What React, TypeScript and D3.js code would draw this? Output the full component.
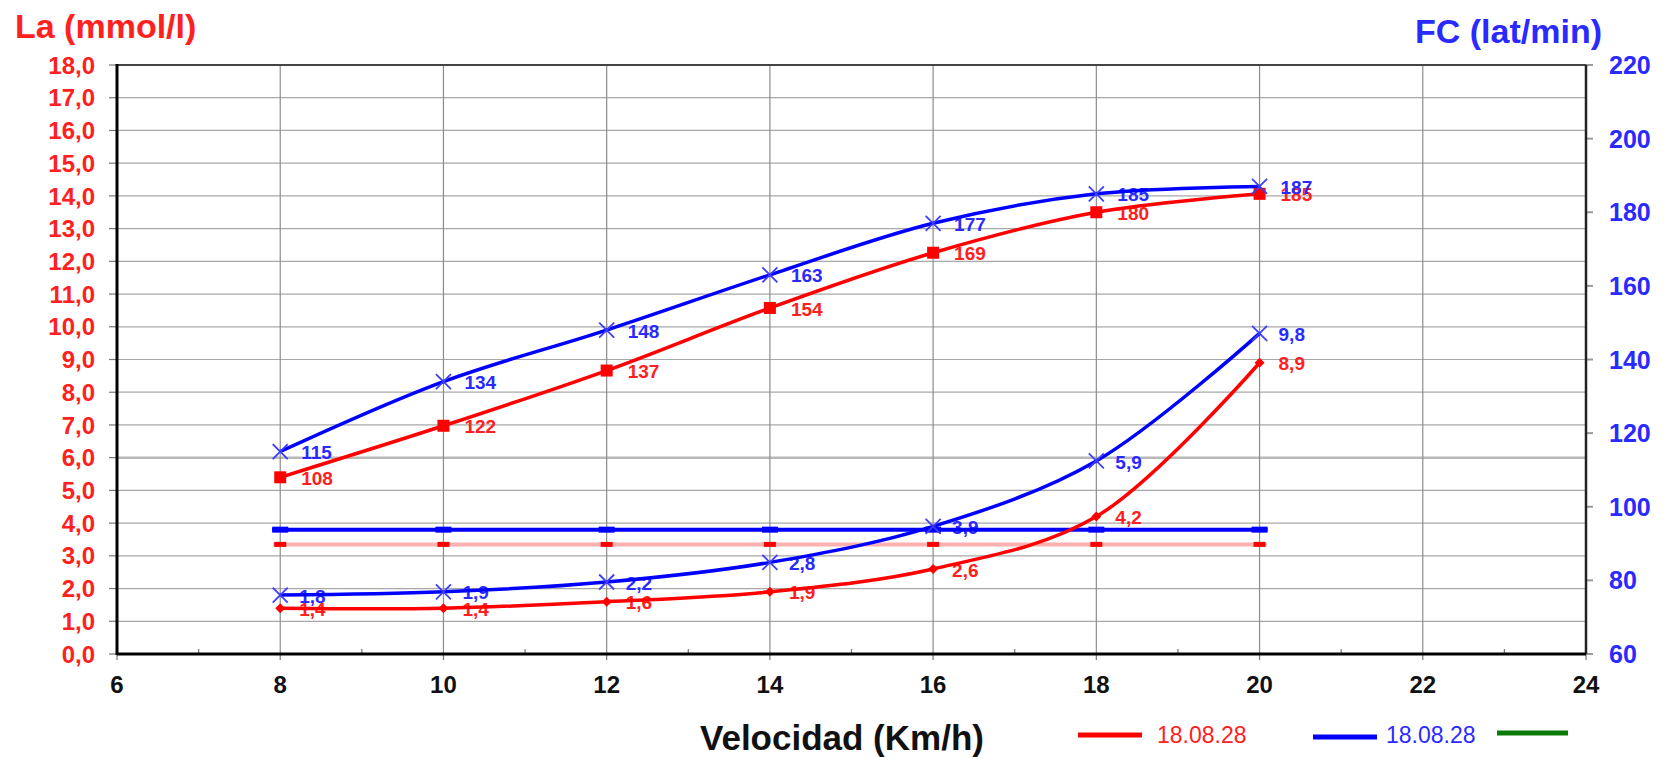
import React from "react";
import * as d3 from "d3";

const speeds = [8, 10, 12, 14, 16, 18, 20];
const laRed = [1.4, 1.4, 1.6, 1.9, 2.6, 4.2, 8.9];
const laBlue = [1.8, 1.9, 2.2, 2.8, 3.9, 5.9, 9.8];
const fcRed = [108, 122, 137, 154, 169, 180, 185];
const fcBlue = [115, 134, 148, 163, 177, 185, 187];
const thrBlue = [3.8, 3.8, 3.8, 3.8, 3.8, 3.8, 3.8];
const thrRed = [3.35, 3.35, 3.35, 3.35, 3.35, 3.35, 3.35];
const xTicks = [6, 8, 10, 12, 14, 16, 18, 20, 22, 24];
const xMinor = [7, 9, 11, 13, 15, 17, 19, 21, 23];
const laTicks = [0, 1, 2, 3, 4, 5, 6, 7, 8, 9, 10, 11, 12, 13, 14, 15, 16, 17, 18];
const fcTicks = [60, 80, 100, 120, 140, 160, 180, 200, 220];
const legendLabels = ["18.08.28", "18.08.28", ""];

const W = 1665;
const H = 757;
const L = 117;
const R = 1586;
const T = 65;
const B = 654;
const FONT = "'Liberation Sans', Arial, sans-serif";
const RED = "#ff0000";
const BLUE = "#0000ff";
const RED_T = "#ff2020";
const BLUE_T = "#2a2aff";

const x = d3.scaleLinear().domain([6, 24]).range([L, R]);
const yLa = d3.scaleLinear().domain([0, 18]).range([B, T]);
const yFc = d3.scaleLinear().domain([60, 220]).range([B, T]);

const fmt = (v: number) => v.toFixed(1).replace(".", ",");

function linePath(vals: number[], y: d3.ScaleLinear<number, number>) {
  const g = d3
    .line<number>()
    .x((_, i) => x(speeds[i]))
    .y((v) => y(v))
    .curve(d3.curveCatmullRom.alpha(0.5));
  return g(vals) || "";
}

function XMark({ cx, cy }: { cx: number; cy: number }) {
  const s = 7.5;
  return (
    <g stroke="#3d3dff" strokeWidth={1.8}>
      <line x1={cx - s} y1={cy - s} x2={cx + s} y2={cy + s} />
      <line x1={cx - s} y1={cy + s} x2={cx + s} y2={cy - s} />
    </g>
  );
}

export default function App() {
  const straight = d3.line<number>().x((_, i) => x(speeds[i])).y((v) => yLa(v));
  return (
    <svg
      width={W}
      height={H}
      style={{ position: "absolute", left: 0, top: 0, background: "#fff" }}
      fontFamily={FONT}
    >
      <rect x={0} y={0} width={W} height={H} fill="#fff" />
      {/* grid */}
      {laTicks.slice(1, -1).map((t) => (
        <line
          key={"h" + t}
          x1={L}
          x2={R}
          y1={yLa(t)}
          y2={yLa(t)}
          stroke={t === 6 ? "#b8b8b8" : "#a8a8a8"}
          strokeWidth={t === 6 ? 2.5 : 1.2}
        />
      ))}
      {xTicks.slice(1, -1).map((t) => (
        <line key={"v" + t} x1={x(t)} x2={x(t)} y1={T} y2={B} stroke="#8c8c8c" strokeWidth={1.2} />
      ))}
      {/* ticks */}
      {laTicks.map((t) => (
        <line key={"lt" + t} x1={L - 8} x2={L} y1={yLa(t)} y2={yLa(t)} stroke="#777" strokeWidth={1.2} />
      ))}
      {fcTicks.map((t) => (
        <line key={"rt" + t} x1={R} x2={R + 7} y1={yFc(t)} y2={yFc(t)} stroke="#999" strokeWidth={2} />
      ))}
      {xTicks.map((t) => (
        <line key={"xt" + t} x1={x(t)} x2={x(t)} y1={B} y2={B + 6} stroke="#777" strokeWidth={1.2} />
      ))}
      {xMinor.map((t) => (
        <line key={"xm" + t} x1={x(t)} x2={x(t)} y1={B - 5} y2={B} stroke="#777" strokeWidth={1.2} />
      ))}
      {/* frame */}
      <line x1={L} x2={R} y1={T} y2={T} stroke="#444" strokeWidth={2} />
      <line x1={R} x2={R} y1={T} y2={B} stroke="#222" strokeWidth={2.5} />
      <line x1={L} x2={L} y1={T - 1} y2={B + 1} stroke="#000" strokeWidth={3} />
      <line x1={L} x2={R} y1={B} y2={B} stroke="#000" strokeWidth={3} />

      {/* tick labels */}
      {laTicks.map((t) => (
        <text
          key={"ll" + t}
          x={95}
          y={yLa(t)}
          dy="0.36em"
          textAnchor="end"
          fontSize={24}
          fontWeight="bold"
          fill={RED_T}
        >
          {fmt(t)}
        </text>
      ))}
      {fcTicks.map((t) => (
        <text
          key={"fl" + t}
          x={1609}
          y={yFc(t)}
          dy="0.36em"
          textAnchor="start"
          fontSize={25}
          fontWeight="bold"
          fill={BLUE_T}
        >
          {t}
        </text>
      ))}
      {xTicks.map((t) => (
        <text key={"xl" + t} x={x(t)} y={693} textAnchor="middle" fontSize={24} fontWeight="bold" fill="#111">
          {t}
        </text>
      ))}

      {/* titles */}
      <text x={15} y={38} fontSize={34} fontWeight="bold" fill={RED_T}>
        La (mmol/l)
      </text>
      <text x={1602} y={43} textAnchor="end" fontSize={34} fontWeight="bold" fill={BLUE_T}>
        FC (lat/min)
      </text>
      <text x={700} y={750} fontSize={35} fontWeight="bold" fill="#111">
        Velocidad (Km/h)
      </text>

      {/* data labels (under lines) */}
      {laRed.map((v, i) => (
        <text key={"lrl" + i} x={x(speeds[i]) + 19} y={yLa(v)} dy="0.4em" fontSize={19} fontWeight="bold" fill={RED_T}>
          {fmt(v)}
        </text>
      ))}
      {laBlue.map((v, i) => (
        <text key={"lbl" + i} x={x(speeds[i]) + 19} y={yLa(v)} dy="0.4em" fontSize={19} fontWeight="bold" fill={BLUE_T}>
          {fmt(v)}
        </text>
      ))}
      {fcRed.map((v, i) => (
        <text key={"frl" + i} x={x(speeds[i]) + 21} y={yFc(v)} dy="0.4em" fontSize={19} fontWeight="bold" fill={RED_T}>
          {v}
        </text>
      ))}
      {fcBlue.map((v, i) => (
        <text key={"fbl" + i} x={x(speeds[i]) + 21} y={yFc(v)} dy="0.4em" fontSize={19} fontWeight="bold" fill={BLUE_T}>
          {v}
        </text>
      ))}

      {/* threshold lines */}
      <line
        x1={x(speeds[0]) - 7}
        x2={x(speeds[speeds.length - 1]) + 7}
        y1={yLa(thrRed[0])}
        y2={yLa(thrRed[0])}
        stroke="#ffb0b0"
        strokeWidth={4}
      />
      <path d={straight(thrRed) || ""} fill="none" stroke="none" />
      {thrRed.map((v, i) => (
        <rect key={"tr" + i} x={x(speeds[i]) - 6} y={yLa(v) - 2.5} width={12} height={5} fill={RED} />
      ))}
      <line
        x1={x(speeds[0]) - 8}
        x2={x(speeds[speeds.length - 1]) + 8}
        y1={yLa(thrBlue[0])}
        y2={yLa(thrBlue[0])}
        stroke={BLUE}
        strokeWidth={4}
      />
      {thrBlue.map((v, i) => (
        <rect key={"tb" + i} x={x(speeds[i]) - 8} y={yLa(v) - 3} width={16} height={6} fill={BLUE} />
      ))}

      {/* series lines */}
      <path d={linePath(laRed, yLa)} fill="none" stroke={RED} strokeWidth={3.5} />
      <path d={linePath(laBlue, yLa)} fill="none" stroke={BLUE} strokeWidth={3.5} />
      <path d={linePath(fcRed, yFc)} fill="none" stroke={RED} strokeWidth={3.5} />
      <path d={linePath(fcBlue, yFc)} fill="none" stroke={BLUE} strokeWidth={3.5} />

      {/* markers */}
      {laRed.map((v, i) => {
        const cx = x(speeds[i]);
        const cy = yLa(v);
        return <path key={"mr" + i} d={`M${cx},${cy - 5}L${cx + 5},${cy}L${cx},${cy + 5}L${cx - 5},${cy}Z`} fill={RED} />;
      })}
      {fcRed.map((v, i) => (
        <rect key={"ms" + i} x={x(speeds[i]) - 6} y={yFc(v) - 6} width={12} height={12} fill={RED} />
      ))}
      {laBlue.map((v, i) => (
        <XMark key={"mb" + i} cx={x(speeds[i])} cy={yLa(v)} />
      ))}
      {fcBlue.map((v, i) => (
        <XMark key={"mf" + i} cx={x(speeds[i])} cy={yFc(v)} />
      ))}

      {/* legend */}
      <line x1={1078} x2={1142} y1={735} y2={735} stroke={RED} strokeWidth={5} />
      <text x={1157} y={743} fontSize={23} fill={RED_T}>
        {legendLabels[0]}
      </text>
      <line x1={1313} x2={1377} y1={737} y2={737} stroke={BLUE} strokeWidth={5} />
      <text x={1386} y={743} fontSize={23} fill={BLUE_T}>
        {legendLabels[1]}
      </text>
      <line x1={1497} x2={1568} y1={733} y2={733} stroke="#0a7a0a" strokeWidth={5} />
    </svg>
  );
}
